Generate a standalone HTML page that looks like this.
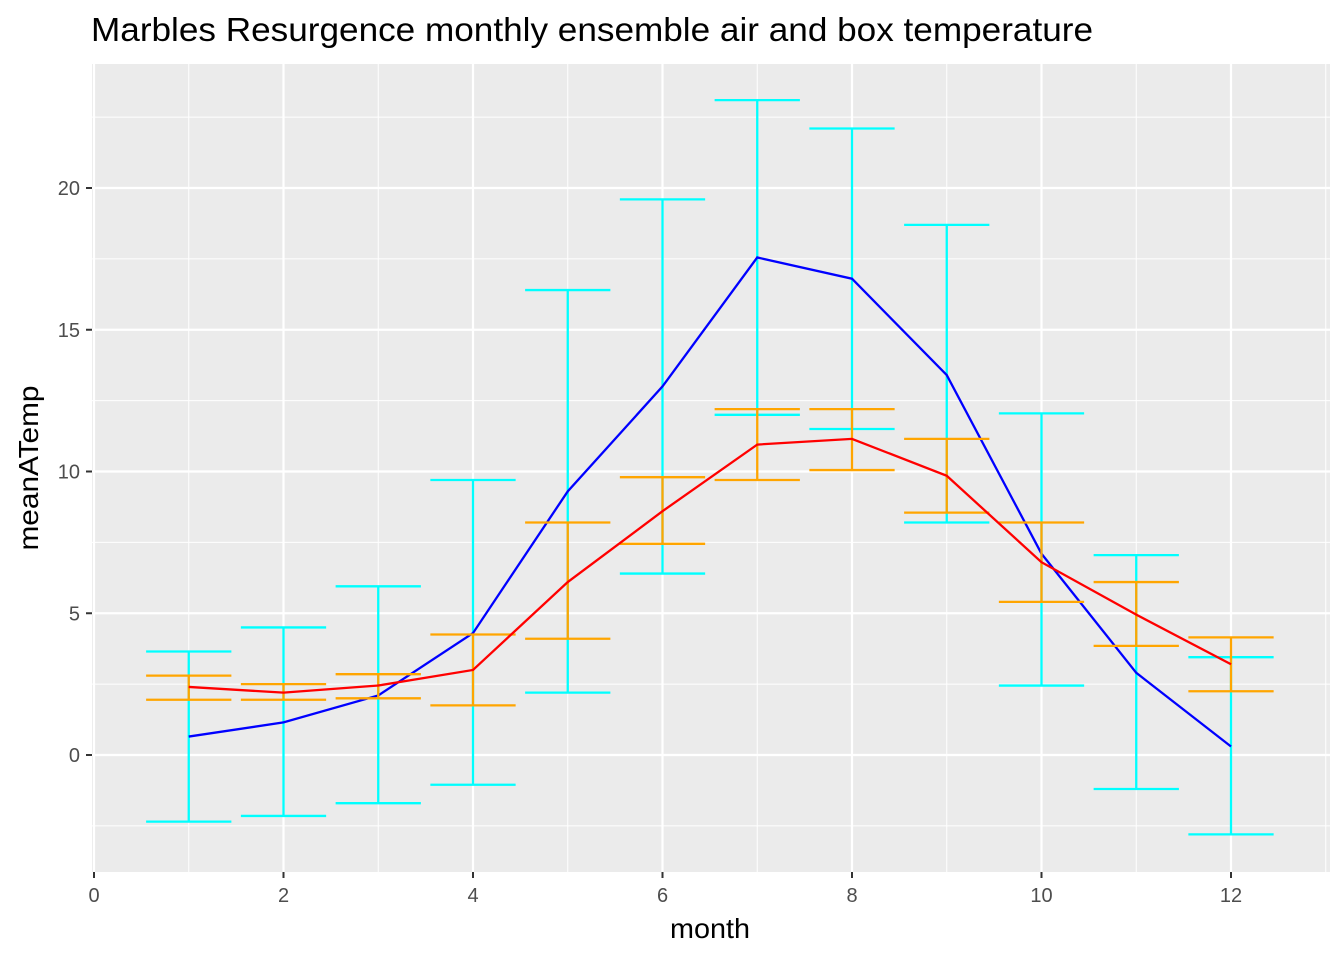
<!DOCTYPE html>
<html><head><meta charset="utf-8"><style>
body{margin:0;background:#fff}
svg{display:block;font-family:"Liberation Sans",Arial,sans-serif}
</style></head><body>
<svg id="chart" width="1344" height="960">
<rect width="1344" height="960" fill="#fff"/>
<rect x="92" y="64" width="1238" height="808" fill="#ebebeb"/>
<g id="grid"></g>
<g id="marks"></g>
<g id="axes"></g>
<text x="91" y="41" font-size="33" textLength="1002" lengthAdjust="spacingAndGlyphs" fill="#000">Marbles Resurgence monthly ensemble air and box temperature</text>
<text x="710" y="938" font-size="28" textLength="80" lengthAdjust="spacingAndGlyphs" text-anchor="middle" fill="#000">month</text>
<text transform="translate(38,468) rotate(-90)" font-size="28" textLength="165" lengthAdjust="spacingAndGlyphs" text-anchor="middle" fill="#000">meanATemp</text>
</svg>
<script>
const months=[1,2,3,4,5,6,7,8,9,10,11,12];
const airMean=[0.65,1.15,2.1,4.3,9.3,13.0,17.55,16.8,13.4,7.1,2.9,0.3];
const airUpper=[3.65,4.5,5.95,9.7,16.4,19.6,23.1,22.1,18.7,12.05,7.05,3.45];
const airLower=[-2.35,-2.15,-1.7,-1.05,2.2,6.4,12.0,11.5,8.2,2.45,-1.2,-2.8];
const boxMean=[2.4,2.2,2.45,3.0,6.1,8.6,10.95,11.15,9.85,6.8,4.95,3.2];
const boxUpper=[2.8,2.5,2.85,4.25,8.2,9.8,12.2,12.2,11.15,8.2,6.1,4.15];
const boxLower=[1.95,1.95,2.0,1.75,4.1,7.45,9.7,10.05,8.55,5.4,3.85,2.25];
const xTicks=[0,2,4,6,8,10,12];
const yTicks=[0,5,10,15,20];
const NS="http://www.w3.org/2000/svg";
const X=v=>94+v*94.75;
const Y=v=>755-v*28.35;
function mk(parent,tag,attrs){const e=document.createElementNS(NS,tag);for(const k in attrs)e.setAttribute(k,attrs[k]);document.getElementById(parent).appendChild(e);return e;}
for(let v=-1;v<=13;v+=2){const e=mk('grid','line',{x1:X(v),x2:X(v),y1:64,y2:872,stroke:'#fff','stroke-width':1});

}
for(let v=-2.5;v<=22.5;v+=5){const e=mk('grid','line',{x1:92,x2:1330,y1:Y(v),y2:Y(v),stroke:'#fff','stroke-width':1});

}
xTicks.forEach(v=>{const e=mk('grid','line',{x1:X(v),x2:X(v),y1:64,y2:872,stroke:'#fff','stroke-width':2.2});


const t=mk('axes','line',{x1:X(v),x2:X(v),y1:872,y2:878,stroke:'#333','stroke-width':2});


const l=mk('axes','text',{x:X(v),y:902,'font-size':20,fill:'#4d4d4d','text-anchor':'middle'});l.textContent=v;

});
yTicks.forEach(v=>{const e=mk('grid','line',{x1:92,x2:1330,y1:Y(v),y2:Y(v),stroke:'#fff','stroke-width':2.2});


const t=mk('axes','line',{x1:86,x2:92,y1:Y(v),y2:Y(v),stroke:'#333','stroke-width':2});


const l=mk('axes','text',{x:80,y:Y(v)+7,'font-size':20,fill:'#4d4d4d','text-anchor':'end'});l.textContent=v;

});
function errbars(up,lo,col,name){months.forEach((m,i)=>{const g=mk('marks','path',{d:`M${X(m-0.45)},${Y(up[i])}H${X(m+0.45)}M${X(m)},${Y(up[i])}V${Y(lo[i])}M${X(m-0.45)},${Y(lo[i])}H${X(m+0.45)}`,stroke:col,'stroke-width':2.3,fill:'none'});

});}
function line(vals,col,name){const e=mk('marks','polyline',{points:months.map((m,i)=>X(m)+','+Y(vals[i])).join(' '),stroke:col,'stroke-width':2.3,fill:'none'});

}
errbars(airUpper,airLower,'#00ffff','air-errorbar');
line(airMean,'#0000ff','air-mean-line');
errbars(boxUpper,boxLower,'#ffa500','box-errorbar');
line(boxMean,'#ff0000','box-mean-line');
</script>
</body></html>
